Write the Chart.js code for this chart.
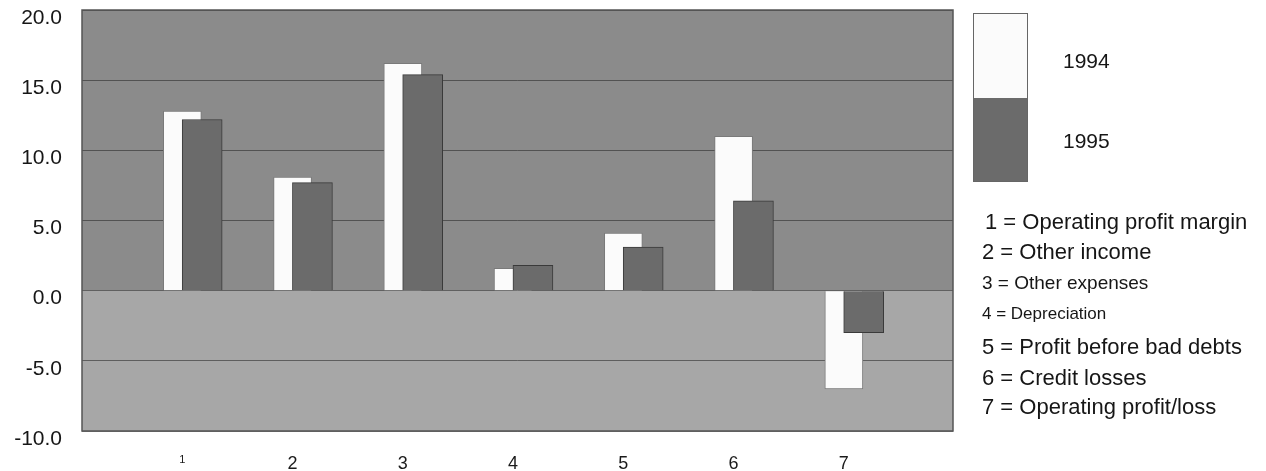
<!DOCTYPE html>
<html>
<head>
<meta charset="utf-8">
<title>Profit components 1994 / 1995</title>
<script src="https://cdn.jsdelivr.net/npm/chart.js@4/dist/chart.umd.min.js"></script>
<style>
    html, body { margin: 0; padding: 0; background: #fff; }
    #wrap { position: relative; width: 1266px; height: 471px; font-family: "Liberation Sans", Arial, sans-serif; color: #161616; }
    #chart { position: absolute; left: 0; top: 0; }
    .key { position: absolute; left: 973px; top: 13px; width: 55px; height: 169px; border: 1px solid #666; box-sizing: border-box; }
    .key div { height: 50%; }
    .year { position: absolute; left: 1063px; font-size: 21px; line-height: 24px; }
    .desc { position: absolute; left: 982px; white-space: nowrap; }
</style>
</head>
<body>
<div id="wrap">
    <canvas id="chart" width="1266" height="471"></canvas>
    <div id="legend"></div>
</div>
<script>
(function() {
    'use strict';

    // Data (percent)
    const categories = ['1', '2', '3', '4', '5', '6', '7'];
    const descriptions = [
        'Operating profit margin',
        'Other income',
        'Other expenses',
        'Depreciation',
        'Profit before bad debts',
        'Credit losses',
        'Operating profit/loss'
    ];
    const seriesNames = ['1994', '1995'];
    const values1994 = [12.8, 8.1, 16.2, 1.6, 4.1, 11.0, -7.0];
    const values1995 = [12.2, 7.7, 15.4, 1.8, 3.1, 6.4, -3.0];
    const yTicks = [-10, -5, 0, 5, 10, 15, 20];

    const colors = ['#fbfbfb', '#6b6b6b'];
    const pairShift = 0.09;   // bars of a pair overlap by half

    // Grey plot background, darker above zero
    const backdrop = {
        id: 'backdrop',
        beforeDraw(chart) {
            const { ctx, chartArea: a, scales } = chart;
            const zero = scales.y.getPixelForValue(0);
            ctx.save();
            ctx.fillStyle = '#8b8b8b';
            ctx.fillRect(a.left, a.top, a.right - a.left, zero - a.top);
            ctx.fillStyle = '#a7a7a7';
            ctx.fillRect(a.left, zero, a.right - a.left, a.bottom - zero);
            ctx.restore();
        },
        afterDraw(chart) {
            const { ctx, chartArea: a } = chart;
            ctx.save();
            ctx.strokeStyle = '#555';
            ctx.lineWidth = 1.5;
            ctx.strokeRect(a.left, a.top, a.right - a.left, a.bottom - a.top);
            ctx.restore();
        }
    };

    const ctx = document.getElementById('chart').getContext('2d');
    new Chart(ctx, {
        type: 'bar',
        data: {
            datasets: [{
                label: seriesNames[0],
                data: values1994.map((v, i) => ({ x: i + 1 - pairShift, y: v })),
                backgroundColor: colors[0],
                borderColor: '#7a7a7a',
                borderWidth: 1,
                barThickness: 38,
                order: 2
            }, {
                label: seriesNames[1],
                data: values1995.map((v, i) => ({ x: i + 1 + pairShift, y: v })),
                backgroundColor: colors[1],
                borderColor: '#3a3a3a',
                borderWidth: 1,
                barThickness: 40,
                order: 1
            }]
        },
        options: {
            responsive: false,
            animation: false,
            grouped: false,
            layout: { padding: { top: 10, right: 313 } },
            plugins: {
                legend: { display: false },
                tooltip: { enabled: false }
            },
            scales: {
                x: {
                    type: 'linear',
                    offset: false,
                    min: 0,
                    max: 7.9,
                    afterBuildTicks: scale => {
                        scale.ticks = categories.map((c, i) => ({ value: i + 1 }));
                    },
                    afterFit: scale => {
                        scale.height = 40;
                        scale.paddingLeft = 0;
                        scale.paddingRight = 0;
                    },
                    grid: { display: false, drawTicks: false },
                    border: { display: false },
                    ticks: {
                        padding: 22,
                        labelOffset: -10,
                        maxRotation: 0,
                        color: '#1a1a1a',
                        font: c => ({ family: 'Liberation Sans', size: c.index === 0 ? 11 : 18 }),
                        callback: v => categories[v - 1]
                    }
                },
                y: {
                    min: yTicks[0],
                    max: yTicks[yTicks.length - 1],
                    afterBuildTicks: scale => {
                        scale.ticks = yTicks.map(v => ({ value: v }));
                    },
                    afterFit: scale => {
                        scale.width = 82;
                        scale.paddingTop = 0;
                        scale.paddingBottom = 0;
                    },
                    grid: { color: 'rgba(45,45,45,0.6)', lineWidth: 1, drawTicks: false },
                    border: { display: false },
                    ticks: {
                        padding: 20,
                        labelOffset: 8,
                        color: '#161616',
                        font: { family: 'Liberation Sans', size: 21 },
                        callback: v => v.toFixed(1)
                    }
                }
            }
        },
        plugins: [backdrop]
    });

    // Legend key and category descriptions on the right
    const legend = document.getElementById('legend');
    const key = document.createElement('div');
    key.className = 'key';
    colors.forEach(c => {
        const part = document.createElement('div');
        part.style.background = c;
        key.appendChild(part);
    });
    legend.appendChild(key);

    const yearCentres = [61, 141];
    seriesNames.forEach((name, i) => {
        const el = document.createElement('div');
        el.className = 'year';
        el.style.top = (yearCentres[i] - 12) + 'px';
        el.textContent = name;
        legend.appendChild(el);
    });

    const descSizes = [22, 22, 19, 17, 22, 22, 22];
    const descCentres = [222, 252, 283, 314, 347, 378, 407];
    descriptions.forEach((d, i) => {
        const el = document.createElement('div');
        el.className = 'desc';
        el.style.fontSize = descSizes[i] + 'px';
        el.style.lineHeight = '26px';
        el.style.top = (descCentres[i] - 13) + 'px';
        if (i === 0) el.style.left = '985px';
        el.textContent = categories[i] + ' = ' + d;
        legend.appendChild(el);
    });
})();
</script>
</body>
</html>
